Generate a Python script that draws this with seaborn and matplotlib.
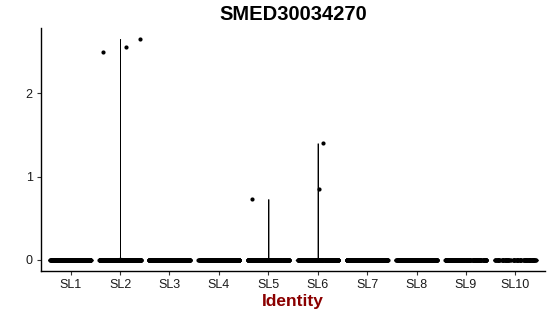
import numpy as np
import pandas as pd
import matplotlib
matplotlib.use("Agg")
import matplotlib.pyplot as plt
import seaborn as sns

clusters = ['SL1', 'SL2', 'SL3', 'SL4', 'SL5', 'SL6', 'SL7', 'SL8', 'SL9', 'SL10']
cell_counts = [300, 280, 260, 250, 240, 220, 260, 240, 200, 90]
nonzero_cluster = ['SL2', 'SL2', 'SL2', 'SL5', 'SL6', 'SL6']
nonzero_values = [2.65, 2.50, 2.56, 0.73, 1.40, 0.85]
title = 'SMED30034270'

rows_c, rows_v = [], []
for c, n in zip(clusters, cell_counts):
    nz = [v for cc, v in zip(nonzero_cluster, nonzero_values) if cc == c]
    rows_c += [c] * n
    rows_v += nz + [0.0] * (n - len(nz))
df = pd.DataFrame({'Identity': rows_c, 'expr': rows_v})
df['Identity'] = pd.Categorical(df['Identity'], categories=clusters, ordered=True)

sns.set_theme(style='ticks')
plt.rcParams['font.family'] = ['Liberation Sans', 'DejaVu Sans']
plt.rcParams['text.color'] = 'black'
plt.rcParams['xtick.color'] = '#333333'
plt.rcParams['ytick.color'] = '#333333'

fig = plt.figure(figsize=(5.5, 3.16), dpi=100)
ax = fig.add_axes([41/550, 1-271/316, 504/550, 243/316])

sns.violinplot(data=df, x='Identity', y='expr', order=clusters, density_norm='width',
               cut=0, inner=None, color='white', linecolor='black', linewidth=0.6,
               width=0.9, bw_adjust=0.05, ax=ax)
np.random.seed(3)
sns.stripplot(data=df, x='Identity', y='expr', order=clusters, jitter=0.42,
              size=3.0, color='black', linewidth=0, ax=ax)

ymax = max(nonzero_values)
ax.set_ylim(-0.05*ymax, ymax*1.05)
ax.set_xlim(-0.6, len(clusters) - 0.4)
ax.set_yticks([0, 1, 2])
ax.set_ylabel('')
ax.set_xlabel('Identity', fontsize=12.5, fontweight='bold', color='#8B0000', labelpad=2)
ax.set_title(title, fontsize=14.5, fontweight='bold', pad=6, color='black')
ax.tick_params(axis='both', labelsize=9, length=3, width=0.8, pad=3, labelcolor='#1a1a1a')
for s in ['top', 'right']:
    ax.spines[s].set_visible(False)
for s in ['left', 'bottom']:
    ax.spines[s].set_linewidth(1.0)
    ax.spines[s].set_color('black')

fig.savefig('out.png', dpi=100)
